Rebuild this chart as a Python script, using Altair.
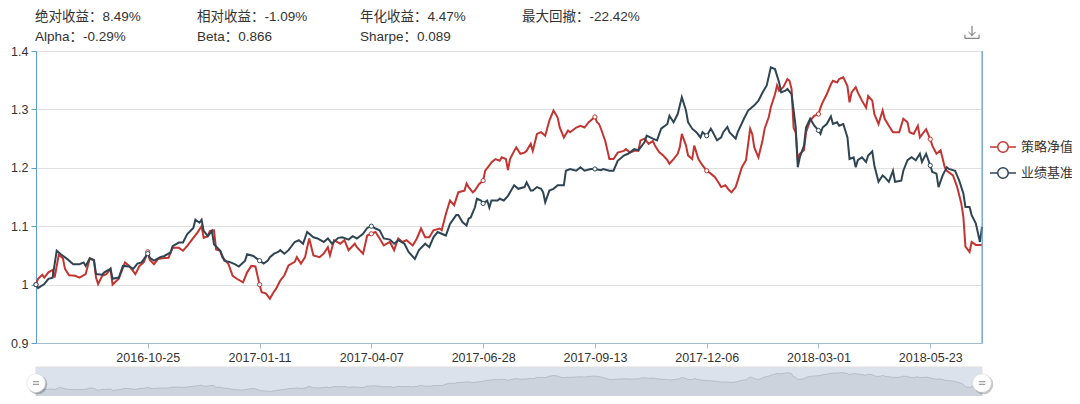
import altair as alt
import pandas as pd

# ---------------- data ----------------
series_names = ["策略净值", "业绩基准"]
series_colors = ["#c23531", "#2f4554"]

# trading-day index of each reading
red_idx = [0, 1, 3, 4, 6, 8, 9, 11, 13, 14, 16, 19, 21, 24, 26, 28, 29, 30, 32, 34, 36, 37, 40, 43, 45, 48, 50, 52,
           54, 55, 57, 59, 61, 64, 66, 69, 71, 73, 76, 78, 80, 81, 83, 84, 86, 87, 89, 90, 93, 95, 97, 100, 102, 104,
           106, 108, 109, 111, 113, 115, 116, 118, 120, 122, 125, 126, 128, 130, 131, 132, 134, 137, 139, 141, 142,
           144, 147, 149, 151, 154, 155, 158, 160, 162, 164, 166, 168, 171, 173, 175, 177, 179, 182, 184, 186, 188,
           190, 192, 195, 196, 198, 200, 202, 204, 207, 208, 209, 211, 212, 214, 216, 217, 219, 220, 222, 224, 225,
           227, 228, 229, 231, 232, 234, 236, 237, 239, 240, 242, 244, 246, 248, 250, 252, 253, 255, 257, 258, 261,
           263, 265, 267, 270, 271, 272, 273, 275, 277, 279, 281, 284, 285, 287, 289, 291, 292, 294, 296, 298, 299,
           301, 303, 305, 306, 308, 310, 311, 312, 314, 315, 317, 318, 320, 322, 324, 326, 328, 330, 331, 333, 335,
           336, 338, 339, 341, 343, 345, 346, 347, 349, 351, 352, 354, 355, 357, 358, 359, 361, 363, 364, 365, 366,
           367, 368, 369, 371, 372, 374, 376, 378, 379, 380, 382, 384, 385, 387, 388, 390, 392, 393, 394, 396, 397,
           399, 401, 402, 404, 405, 407, 409, 410, 412, 414, 417, 419, 421, 422, 424, 426, 427, 430, 432, 433, 435,
           437, 439, 440, 443, 445, 447, 448, 449, 451, 452, 454, 456, 457]
red_val = [1.000, 1.010, 1.017, 1.012, 1.021, 1.025, 1.012, 1.051, 1.045, 1.027, 1.016, 1.015, 1.012, 1.018, 1.045,
           1.041, 1.012, 1.001, 1.015, 1.018, 1.027, 1.000, 1.010, 1.038, 1.032, 1.018, 1.032, 1.038,
           1.056, 1.042, 1.035, 1.044, 1.045, 1.046, 1.063, 1.063, 1.058, 1.066, 1.080, 1.089, 1.100, 1.080, 1.083,
           1.092, 1.093, 1.060, 1.058, 1.047, 1.035, 1.015, 1.010, 1.004, 1.021, 1.032,
           1.031, 1.000, 0.987, 0.985, 0.976, 0.988, 0.993, 1.007, 1.016, 1.033, 1.039, 1.047, 1.036, 1.047, 1.064,
           1.079, 1.050, 1.047, 1.053, 1.064, 1.050,
           1.076, 1.070, 1.076, 1.059, 1.070, 1.064, 1.053, 1.084, 1.087, 1.090, 1.079, 1.067, 1.073, 1.059, 1.079,
           1.073, 1.076, 1.067, 1.079, 1.096, 1.081,
           1.081, 1.093, 1.096, 1.093, 1.121, 1.144, 1.136, 1.158, 1.161, 1.173, 1.167, 1.158, 1.161, 1.172, 1.178,
           1.195, 1.204, 1.209, 1.215, 1.212, 1.218,
           1.215, 1.196, 1.215, 1.229, 1.235, 1.224, 1.226, 1.229, 1.241, 1.229, 1.258, 1.261, 1.255, 1.281, 1.298,
           1.286, 1.269, 1.252, 1.264, 1.261, 1.269,
           1.272, 1.269, 1.278, 1.287, 1.278, 1.275, 1.266, 1.246, 1.215, 1.215, 1.226, 1.229, 1.232, 1.226, 1.229,
           1.229, 1.247, 1.250, 1.241, 1.246, 1.238,
           1.227, 1.221, 1.213, 1.207, 1.215, 1.224, 1.235, 1.258, 1.238, 1.221, 1.215, 1.238, 1.215, 1.204, 1.195,
           1.190, 1.184, 1.173, 1.167, 1.170, 1.161,
           1.158, 1.167, 1.178, 1.201, 1.213, 1.267, 1.258, 1.235, 1.218, 1.247, 1.267, 1.287, 1.304, 1.326, 1.341,
           1.332, 1.338, 1.352, 1.349, 1.335, 1.268,
           1.261, 1.213, 1.224, 1.230, 1.261, 1.281, 1.289, 1.292, 1.303, 1.312, 1.326, 1.343, 1.349, 1.346, 1.352,
           1.355, 1.340, 1.312, 1.329, 1.338, 1.329,
           1.315, 1.303, 1.323, 1.315, 1.292, 1.275, 1.298, 1.284, 1.272, 1.261, 1.261, 1.284, 1.278, 1.261, 1.258,
           1.272, 1.252, 1.266, 1.249, 1.238, 1.224,
           1.230, 1.201, 1.195, 1.187, 1.167, 1.139, 1.116, 1.065, 1.056, 1.073, 1.068, 1.068, 1.068]

bm_idx = [0, 1, 4, 6, 8, 10, 12, 15, 18, 21, 23, 24, 26, 28, 29, 32, 33, 36, 37, 40, 42, 45, 47, 49, 51, 54, 55, 57,
          60, 62, 65, 66, 69, 71, 73, 76, 77, 79, 80, 81, 83, 85, 86, 89, 91, 94, 96, 98, 101, 102, 105, 108, 110,
          112, 113, 115, 117, 118, 120, 122, 125, 127, 129, 131, 134, 136, 139, 141, 143, 146, 148, 151, 153, 155,
          158, 160, 162, 164, 166, 168, 171, 173, 175, 178, 180, 183, 185, 188, 190, 192, 194, 196, 198, 200, 203,
          204, 206, 208, 209, 210, 212, 213, 215, 216, 218, 219, 220, 223, 224, 226, 228, 229, 231, 233, 236, 237,
          239, 240, 242, 244, 245, 246, 248, 250, 252, 255, 256, 258, 261, 263, 265, 268, 270, 273, 274, 277, 279,
          281, 284, 286, 289, 291, 294, 295, 298, 300, 302, 305, 306, 308, 310, 312, 314, 315, 317, 319, 321, 322,
          324, 326, 327, 329, 331, 332, 334, 335, 338, 339, 342, 344, 347, 349, 351, 353, 355, 357, 359, 360, 362,
          363, 365, 367, 368, 369, 371, 372, 374, 376, 378, 379, 380, 382, 384, 385, 387, 388, 390, 392, 393, 395,
          396, 397, 399, 401, 402, 404, 405, 407, 409, 410, 412, 414, 415, 418, 419, 421, 423, 425, 427, 428, 430,
          432, 433, 435, 436, 438, 440, 441, 444, 446, 448, 449, 451, 452, 454, 456, 457]
bm_val = [1.000, 0.994, 1.001, 1.010, 1.012, 1.058, 1.052, 1.044, 1.035, 1.035, 1.038, 1.032, 1.045, 1.042, 1.018,
          1.017, 1.021, 1.027, 1.010, 1.012, 1.032, 1.031, 1.027, 1.036, 1.038, 1.053, 1.046, 1.041,
          1.047, 1.049, 1.055, 1.066, 1.072, 1.072, 1.086, 1.097, 1.111, 1.106, 1.111, 1.092, 1.083, 1.092, 1.069,
          1.058, 1.041, 1.038, 1.035, 1.031, 1.041, 1.052, 1.049, 1.041, 1.036,
          1.041, 1.047, 1.053, 1.056, 1.059, 1.053, 1.059, 1.073, 1.076, 1.070, 1.090, 1.081, 1.079, 1.073, 1.079,
          1.070, 1.080, 1.081, 1.077, 1.083, 1.079,
          1.087, 1.097, 1.100, 1.096, 1.093, 1.079, 1.077, 1.070, 1.076, 1.070, 1.056, 1.044, 1.059, 1.070, 1.064,
          1.081, 1.090, 1.087, 1.084, 1.104, 1.119,
          1.119, 1.107, 1.101, 1.113, 1.115, 1.132, 1.147, 1.144, 1.139, 1.144, 1.132, 1.144, 1.144, 1.147, 1.144,
          1.152, 1.158, 1.170, 1.164, 1.167, 1.175,
          1.161, 1.161, 1.167, 1.164, 1.158, 1.141, 1.161, 1.164, 1.170, 1.170, 1.195, 1.198, 1.195, 1.201, 1.195,
          1.198, 1.198, 1.196, 1.198, 1.195, 1.195,
          1.212, 1.221, 1.224, 1.232, 1.230, 1.244, 1.255, 1.250, 1.247, 1.267, 1.275, 1.289, 1.278, 1.292, 1.321,
          1.298, 1.278, 1.267, 1.261, 1.252, 1.261,
          1.255, 1.267, 1.261, 1.247, 1.252, 1.261, 1.270, 1.261, 1.250, 1.261, 1.284, 1.298, 1.307, 1.315, 1.329,
          1.341, 1.372, 1.369, 1.346, 1.329, 1.332,
          1.335, 1.326, 1.270, 1.201, 1.218, 1.238, 1.269, 1.284, 1.272, 1.264, 1.258, 1.269, 1.275, 1.288, 1.275,
          1.278, 1.272, 1.275, 1.252, 1.215, 1.218,
          1.201, 1.213, 1.218, 1.210, 1.221, 1.228, 1.204, 1.176, 1.187, 1.184, 1.176, 1.195, 1.176, 1.178, 1.195,
          1.213, 1.218, 1.213, 1.224, 1.210, 1.224,
          1.204, 1.193, 1.190, 1.167, 1.187, 1.201, 1.198, 1.195, 1.178, 1.156, 1.133, 1.133, 1.119, 1.105, 1.073,
          1.099]

last_idx = 457
tick_idx = [54, 108, 162, 216, 270, 324, 378, 432]
tick_labels = ["2016-10-25", "2017-01-11", "2017-04-07", "2017-06-28",
               "2017-09-13", "2017-12-06", "2018-03-01", "2018-05-23"]
y_ticks = [0.9, 1.0, 1.1, 1.2, 1.3, 1.4]

stats_row1 = ["绝对收益：8.49%", "相对收益：-1.09%", "年化收益：4.47%", "最大回撤：-22.42%"]
stats_row2 = ["Alpha：-0.29%", "Beta：0.866", "Sharpe：0.089"]

# ---------------- layout / style ----------------
FONT = "Liberation Sans, Noto Sans CJK SC, sans-serif"
W, H = 946, 292
AXIS_BLUE = "#5a9fd4"
AXIS_GREY = "#a3bccf"

red_df = pd.DataFrame({"idx": red_idx, "val": red_val})
bm_df = pd.DataFrame({"idx": bm_idx, "val": bm_val})

label_expr = "".join(f"datum.value == {i} ? '{l}' : " for i, l in zip(tick_idx, tick_labels)) + "''"

x_enc = alt.X("idx:Q",
              scale=alt.Scale(domain=[0, last_idx], nice=False, zero=False),
              axis=alt.Axis(values=tick_idx, labelExpr=label_expr, grid=False, title=None,
                            tickSize=5, tickColor=AXIS_GREY, domainColor=AXIS_GREY,
                            labelColor="#333", labelFontSize=12.5, labelPadding=3,
                            labelFlush=False, labelOverlap=False))
y_scale = alt.Scale(domain=[0.9, 1.4], nice=False, zero=False)
y_axis = alt.Axis(values=y_ticks, format="~g", title=None, grid=True, gridColor="#e0e0e0",
                  tickSize=5, tickColor=AXIS_BLUE, domainColor=AXIS_BLUE,
                  labelColor="#333", labelFontSize=12.5, labelPadding=3)


def series_line(df, color, axis):
    return alt.Chart(df).mark_line(color=color, strokeWidth=2).encode(
        x=x_enc, y=alt.Y("val:Q", scale=y_scale, axis=axis))


def series_marks(df, color):
    return alt.Chart(df).transform_filter("datum.idx % 54 == 0").mark_point(
        shape="circle", filled=True, fill="white", stroke=color, strokeWidth=1, size=18, opacity=1
    ).encode(x=alt.X("idx:Q"), y=alt.Y("val:Q", scale=y_scale, axis=None))


one = pd.DataFrame({"k": [0]})

layers = []
# slider (data zoom) below the plot
lo = min(red_val) - 0.3 * (max(red_val) - min(red_val))
hi = max(red_val) + 0.3 * (max(red_val) - min(red_val))
s_top, s_bot = 316, 346
slider_scale = alt.Scale(domain=[lo, hi], range=[s_bot, s_top], nice=False, zero=False)
layers.append(alt.Chart(one).mark_rect(fill="rgba(167,183,204,0.4)", stroke="#dddddd", strokeWidth=1).encode(
    x=alt.value(0), x2=alt.value("width"), y=alt.value(s_top), y2=alt.value(s_bot)))
layers.append(alt.Chart(red_df).mark_area(color="#2f4554", opacity=0.09).encode(
    x=alt.X("idx:Q"), y=alt.Y("val:Q", scale=slider_scale, axis=None), y2=alt.Y2(datum=lo)))
layers.append(alt.Chart(red_df).mark_line(color="#2f4554", opacity=0.3, strokeWidth=0.6).encode(
    x=alt.X("idx:Q"), y=alt.Y("val:Q", scale=slider_scale, axis=None)))

# main series
layers.append(series_line(red_df, series_colors[0], y_axis))
layers.append(series_line(bm_df, series_colors[1], None))
layers.append(series_marks(red_df, series_colors[0]))
layers.append(series_marks(bm_df, series_colors[1]))

# right border of the grid
layers.append(alt.Chart(one).mark_rule(color=AXIS_BLUE, strokeWidth=1).encode(
    x=alt.value("width"), y=alt.value(0), y2=alt.value("height")))

# slider handles
for hx in [0, "width"]:
    layers.append(alt.Chart(one).mark_point(shape="circle", filled=True, color="#000", opacity=0.22,
                                            size=380, xOffset=1.5, yOffset=1.5).encode(
        x=alt.value(hx), y=alt.value(332)))
    layers.append(alt.Chart(one).mark_point(shape="circle", filled=True, fill="white", stroke="#d0d0d0",
                                            strokeWidth=0.5, opacity=1, size=350).encode(
        x=alt.value(hx), y=alt.value(332)))
    layers.append(alt.Chart(one).mark_point(shape="M-1,-0.45H1M-1,0.45H1", filled=False, stroke="#a0a0a0",
                                            strokeWidth=1.2, size=40, opacity=1).encode(
        x=alt.value(hx), y=alt.value(332)))

# stats text above the chart
col_x = [-1, 161, 324, 486]
for j, t in enumerate(stats_row1):
    layers.append(alt.Chart(pd.DataFrame({"t": [t]})).mark_text(
        align="left", baseline="middle", fontSize=13.5, color="#333", font=FONT).encode(
        text="t:N", x=alt.value(col_x[j]), y=alt.value(-34)))
for j, t in enumerate(stats_row2):
    layers.append(alt.Chart(pd.DataFrame({"t": [t]})).mark_text(
        align="left", baseline="middle", fontSize=13.5, color="#333", font=FONT).encode(
        text="t:N", x=alt.value(col_x[j]), y=alt.value(-14)))

# download icon
layers.append(alt.Chart(one).mark_point(
    shape="M0,-1V0.35M-0.5,-0.15L0,0.35L0.5,-0.15M-1,0.25V0.75H1V0.25",
    filled=False, stroke="#666", strokeWidth=1, size=200, opacity=1).encode(
    x=alt.value(936), y=alt.value(-18)))

# legend (line + empty circle + label)
leg_y = [96, 122]
for i, (nm, c) in enumerate(zip(series_names, series_colors)):
    layers.append(alt.Chart(one).mark_rule(color=c, strokeWidth=1.5).encode(
        x=alt.value(954), x2=alt.value(980), y=alt.value(leg_y[i])))
    layers.append(alt.Chart(one).mark_point(shape="circle", filled=True, fill="white", stroke=c,
                                            strokeWidth=1.5, size=110, opacity=1).encode(
        x=alt.value(967), y=alt.value(leg_y[i])))
    layers.append(alt.Chart(pd.DataFrame({"t": [nm]})).mark_text(
        align="left", baseline="middle", fontSize=13, color="#333", font=FONT).encode(
        text="t:N", x=alt.value(985), y=alt.value(leg_y[i])))

chart = alt.layer(*layers).resolve_scale(y="independent").properties(
    width=W, height=H,
    autosize=alt.AutoSizeParams(type="none"),
    padding={"left": 28, "top": 43, "right": 90, "bottom": 53},
).configure(font=FONT).configure_view(stroke=AXIS_GREY)

chart.save("out.html", embed_options={"renderer": "svg", "actions": False})
